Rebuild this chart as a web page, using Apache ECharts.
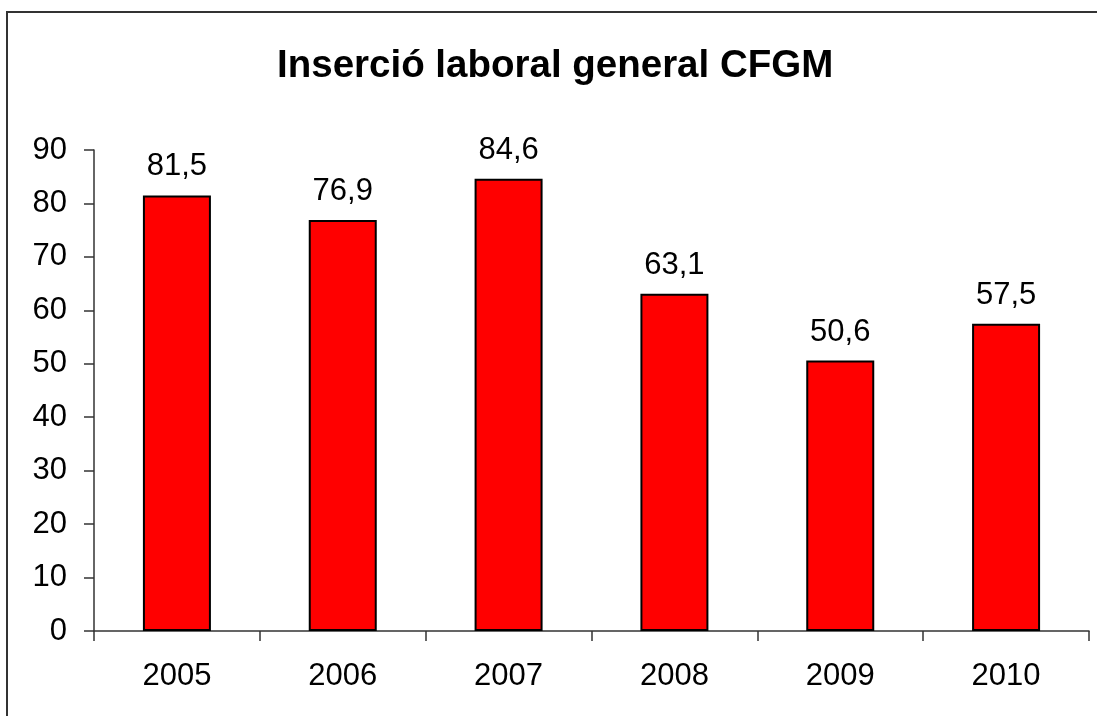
<!DOCTYPE html>
<html>
<head>
<meta charset="utf-8">
<script src="https://cdn.jsdelivr.net/npm/echarts@6/dist/echarts.min.js"></script>
<style>
html, body { margin: 0; padding: 0; background: #fff; }
#chart { width: 1097px; height: 716px; }
</style>
</head>
<body>
<div id="chart"></div>
<script>
// dades del gràfic
var years = ['2005', '2006', '2007', '2008', '2009', '2010']
var values = [81.5, 76.9, 84.6, 63.1, 50.6, 57.5]
var titleText = 'Inserció laboral general CFGM'

var font = 'Liberation Sans, Arial, sans-serif'

var chart = echarts.init(document.getElementById('chart'))
var options = {
  backgroundColor: '#fff',
  animation: false,
  title: {
    text: titleText,
    left: 272,
    top: 42,
    textStyle: {
      fontFamily: font,
      fontSize: 38.5,
      fontWeight: 'bold',
      color: '#000'
    }
  },
  graphic: [{
    type: 'rect',
    shape: { x: 7, y: 12, width: 1120, height: 740 },
    style: { fill: 'none', stroke: '#333', lineWidth: 2 },
    silent: true
  }],
  grid: {
    left: 94,
    right: 8,
    top: 150,
    bottom: 85
  },
  xAxis: {
    type: 'category',
    data: years,
    axisLine: { lineStyle: { color: '#333', width: 1.5 } },
    axisTick: { show: true, length: 10, lineStyle: { color: '#333', width: 1.5 } },
    axisLabel: {
      margin: 30,
      color: '#000',
      fontFamily: font,
      fontSize: 31
    }
  },
  yAxis: {
    type: 'value',
    min: 0,
    max: 90,
    interval: 10,
    splitLine: { show: false },
    axisLine: { show: true, lineStyle: { color: '#333', width: 1.5 } },
    axisTick: { show: true, length: 10, lineStyle: { color: '#333', width: 1.5 } },
    axisLabel: {
      margin: 27,
      color: '#000',
      fontFamily: font,
      fontSize: 31
    }
  },
  series: [{
    type: 'bar',
    data: values,
    barWidth: 68,
    itemStyle: {
      color: '#ff0000',
      borderColor: '#000',
      borderWidth: 2
    },
    label: {
      show: true,
      position: 'top',
      distance: 13,
      color: '#000',
      fontFamily: font,
      fontSize: 31,
      formatter: function (p) {
        return String(p.value).replace('.', ',')
      }
    }
  }]
}
chart.setOption(options)
</script>
</body>
</html>
